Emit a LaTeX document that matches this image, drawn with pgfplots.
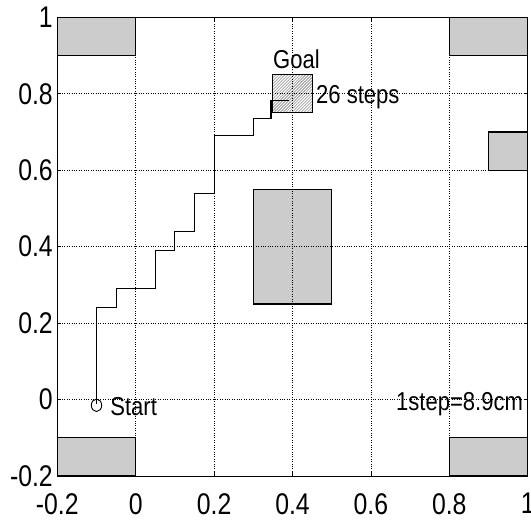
\documentclass[border=0pt]{standalone}
\usepackage{fontspec}
\setmainfont{Liberation Sans}
\usepackage{pgfplots}
\pgfplotsset{compat=1.18}
\usetikzlibrary{patterns}
\newcommand{\nt}[1]{\scalebox{0.83}[1]{#1}}
\newcommand{\na}[1]{\scalebox{0.85}[1]{#1}}
\begin{document}
\begin{tikzpicture}
\begin{axis}[name=ax,
  scale only axis, width=470.4bp, height=458.7bp,
  xmin=-0.2, xmax=1, ymin=-0.2, ymax=1,
  xtick={-0.2,0,0.2,0.4,0.6,0.8,1},
  xticklabels={\nt{-0.2},\nt{0},\nt{0.2},\nt{0.4},\nt{0.6},\nt{0.8},\nt{1}},
  ytick={-0.2,0,0.2,0.4,0.6,0.8,1},
  yticklabels={\nt{-0.2},\nt{0},\nt{0.2},\nt{0.4},\nt{0.6},\nt{0.8},\nt{1}},
  tick align=inside, major tick length=4bp,
  tick style={black, line width=0.8pt},
  ticklabel style={font=\fontsize{30}{33}\selectfont},
  xticklabel style={inner sep=1bp, yshift=-16bp},
  yticklabel style={xshift=-1bp},
  grid=major, grid style={black, dotted, line width=0.7pt},
  axis line style={black, line width=0.9pt},
  axis on top,
  clip=false,
]
% obstacles
\addplot[draw=black, line width=1.1pt, fill=black!20] coordinates {(-0.2,0.9) (0,0.9) (0,1) (-0.2,1)} -- cycle;
\addplot[draw=black, line width=1.1pt, fill=black!20] coordinates {(0.8,0.9) (1,0.9) (1,1) (0.8,1)} -- cycle;
\addplot[draw=black, line width=1.1pt, fill=black!20] coordinates {(-0.2,-0.2) (0,-0.2) (0,-0.1) (-0.2,-0.1)} -- cycle;
\addplot[draw=black, line width=1.1pt, fill=black!20] coordinates {(0.8,-0.2) (1,-0.2) (1,-0.1) (0.8,-0.1)} -- cycle;
\addplot[draw=black, line width=1.1pt, fill=black!20] coordinates {(0.9,0.6) (1,0.6) (1,0.7) (0.9,0.7)} -- cycle;
\addplot[draw=black, line width=1.1pt, fill=black!20] coordinates {(0.3,0.25) (0.5,0.25) (0.5,0.55) (0.3,0.55)} -- cycle;
% goal
\addplot[draw=black, line width=1.1pt, pattern=north east lines, pattern color=black!60] coordinates {(0.35,0.75) (0.45,0.75) (0.45,0.85) (0.35,0.85)} -- cycle;
% path
\addplot[black, line width=1.2pt, mark=none] coordinates {
(-0.1,-0.012) (-0.1,0.24) (-0.05,0.24) (-0.05,0.29) (0.05,0.29) (0.05,0.39)
(0.1,0.39) (0.1,0.44) (0.15,0.44) (0.15,0.54) (0.2,0.54) (0.2,0.69)
(0.3,0.69) (0.3,0.735) (0.345,0.735) (0.345,0.783) (0.39,0.783)};
\addplot[black, only marks, mark=o, mark size=5.2bp, mark options={line width=0.9pt, fill=white, yscale=1.2}] coordinates {(-0.1,-0.015)};
\node[anchor=west, font=\fontsize{26}{29}\selectfont, inner sep=0pt] at (axis cs:-0.065,-0.018) {\na{Start}};
\node[anchor=center, font=\fontsize{26}{29}\selectfont, inner sep=0pt] at (axis cs:0.41,0.89) {\na{Goal}};
\node[anchor=west, font=\fontsize{26}{29}\selectfont, inner sep=0pt] at (axis cs:0.46,0.79) {\na{26 steps}};
\node[anchor=west, font=\fontsize{26}{29}\selectfont, inner sep=0pt] at (axis cs:0.664,-0.013) {\na{1step=8.9cm}};
\end{axis}
\pgfresetboundingbox
\path ([shift={(-57.3bp,-45bp)}]ax.south west) rectangle ([shift={(3.3bp,17.3bp)}]ax.north east);
\end{tikzpicture}
\end{document}
